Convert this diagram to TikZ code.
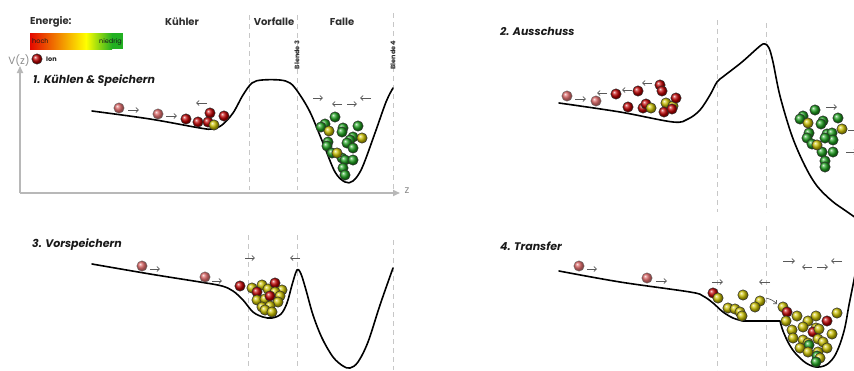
\documentclass[tikz,border=0pt]{standalone}
\usepackage{fontspec}
\setmainfont{Poppins}
\usetikzlibrary{arrows.meta}

\definecolor{ionred}{HTML}{C00000}
\definecolor{iongreen}{HTML}{1EA01E}
\definecolor{ionyellow}{HTML}{CCC200}
\definecolor{ghostred}{HTML}{C83030}
\definecolor{barred}{HTML}{E40800}
\definecolor{bargreen}{HTML}{22B022}
\definecolor{textdark}{HTML}{2E2E2E}

% one ion drawn as a shaded sphere with a thin rim
\newcommand\ionat[3]{%
  \shade[ball color=#3] (#1,#2) circle (5.2pt);
  \draw[black!80, line width=0.5pt] (#1,#2) circle (5.2pt);}
\newcommand\ghostat[2]{%
  \begin{scope}[opacity=0.8]
    \shade[ball color=ghostred] (#1,#2) circle (5.2pt);
    \draw[black!60, line width=0.5pt] (#1,#2) circle (5.2pt);
  \end{scope}}

\begin{document}
\begin{tikzpicture}[x=1pt, y=-1pt,
  guide/.style={draw=black!22, dash pattern=on 5pt off 4pt, line width=0.9pt},
  potential/.style={draw=black, line width=1.6pt, line join=round, line cap=round},
  motion/.style={-{Straight Barb[length=2.6pt,width=5pt]}, draw=black!65, line width=0.7pt},
  axisline/.style={draw=black!28, line width=1.6pt, -{Triangle[length=7pt,width=6pt]}},
  heading/.style={font=\bfseries\fontsize{10}{12}\selectfont, text=textdark, inner sep=0},
  stagetitle/.style={font=\bfseries\itshape\fontsize{11}{13}\selectfont, text=black!90, anchor=west, inner sep=0},
  aperture/.style={font=\bfseries\fontsize{6.5}{8}\selectfont, rotate=90, text=textdark, inner sep=0},
  legendtext/.style={font=\fontsize{6.5}{8}\selectfont, text=black!90, inner sep=0},
  axislabel/.style={font=\fontsize{10.5}{12}\selectfont, text=black!45, inner sep=0}]
\useasboundingbox (0,0) rectangle (854,370);

% ---------------- guide lines (apertures) ----------------
\draw[guide] (249,15) -- (249,190);
\draw[guide] (297,15) -- (297,190);
\draw[guide] (393,13) -- (393,190);
\draw[guide] (717,20) -- (717,212);
\draw[guide] (766,23) -- (766,212);
\draw[guide] (248,235) -- (248,370);
\draw[guide] (297,235) -- (297,370);
\draw[guide] (393,240) -- (393,370);
\draw[guide] (717,226) -- (717,370);
\draw[guide] (766,226) -- (766,370);

% ---------------- axes ----------------
\coordinate (origin) at (20,193);
\coordinate (vtop) at (20,66);
\coordinate (zend) at (400,193);
\draw[axisline] (origin) -- (vtop);
\draw[axisline] (origin) -- (zend);
\node[axislabel] (vlabel) at (19,61) {V(z)};
\node[axislabel] (zlabel) at (407,191) {z};

% ---------------- legend ----------------
\node[heading, anchor=west] (energy) at (30,22) {Energie:};
\shade[left color=barred, right color=yellow] (30,33) rectangle (86,49);
\shade[left color=yellow, right color=bargreen] (86,33) rectangle (112,49);
\fill[bargreen] (112,33) rectangle (123,49);
\node[legendtext, anchor=west] (high) at (32,41.5) {hoch};
\node[legendtext, anchor=east] (low) at (122,41.5) {niedrig};
\ionat{37}{59}{ionred}
\node[legendtext, font=\bfseries\fontsize{6.5}{8}\selectfont, anchor=west] (ionlabel) at (46,59.5) {Ion};

% region headings
\node[heading] (cooler) at (182,22) {Kühler};
\node[heading] (prefall) at (274,22) {Vorfalle};
\node[heading] (trap) at (342,22) {Falle};
\node[aperture] (ap3) at (297,55) {Blende 3};
\node[aperture] (ap4) at (393,55) {Blende 4};

% ---------------- stage titles ----------------
\node[stagetitle] (t1) at (33,81) {1. Kühlen \& Speichern};
\node[stagetitle] (t2) at (500,31) {2. Ausschuss};
\node[stagetitle] (t3) at (32,245) {3. Vorspeichern};
\node[stagetitle] (t4) at (500,246) {4. Transfer};

% ---------------- potential curves ----------------
\draw[potential] plot[smooth, tension=0.55] coordinates {
  (92,111) (150,119) (200,128) (212,129) (222,125) (233,113) (243,95)
  (252,83) (262,80) (280,80) (290,83) (298,92) (310,112) (323,143)
  (335,172) (345,182) (353,181) (362,168) (375,133) (386,102) (393,88)};

\draw[potential] plot[smooth, tension=0.55] coordinates {
  (559,103) (620,112) (673,122) (688,119) (700,110) (710,95) (717,82)
  (724,76) (742,62) (760,46) (765,44) (769,48) (773,62) (780,96)
  (792,136) (805,166) (817,186) (832,201) (846,211) (856,218)};

\draw[potential] plot[smooth, tension=0.55] coordinates {
  (92,264) (150,274) (200,282) (222,286) (233,291) (243,300) (253,312)
  (263,317) (272,318) (281,314) (287,303) (292,285) (297,270) (301,274)
  (306,290) (313,315) (322,338) (333,357) (343,366) (350,368) (358,362)
  (368,342) (380,305) (393,268)};

\draw[potential] plot[smooth, tension=0.55] coordinates {
  (559,271) (620,282) (690,292) (703,296) (713,303) (723,312) (733,318) (743,321)}
  -- plot[smooth, tension=0.55] coordinates {
  (780,321) (783,331) (789,344) (796,354) (806,363) (816,367) (826,365)
  (834,357) (840,344) (845,327) (849,305) (855,275)};

% ---------------- stage 1 ions ----------------
\ghostat{119}{108}
\ghostat{158}{114}
\foreach \x/\y in {186/119, 198/122, 224/116, 210/113, 208/122}{\ionat{\x}{\y}{ionred}}
\ionat{214}{125}{ionyellow}
\foreach \x/\y in {335/117, 325/124, 321/127, 343/128, 342/132, 358/126,
                   353/137, 350/140, 347/143, 353/148, 328/142, 327/146,
                   332/153, 342/158, 345/160, 353/160, 343/168, 345/175}{\ionat{\x}{\y}{iongreen}}
\foreach \x/\y in {329/131, 362/138, 337/153}{\ionat{\x}{\y}{ionyellow}}
\draw[motion] (128,110) -- (139,110);
\draw[motion] (166,116) -- (177,116);
\draw[motion] (207,103) -- (196,103);
\draw[motion] (313,98) -- (323,98);
\draw[motion] (342,104) -- (332,104);
\draw[motion] (347,104) -- (357,104);
\draw[motion] (371,98) -- (360,98);

% ---------------- stage 2 ions ----------------
\ghostat{567}{96}
\ghostat{596}{101}
\foreach \x/\y in {616/94, 638/91, 660/85, 662/91, 628/107, 643/108, 646/104}{\ionat{\x}{\y}{ionred}}
\ionat{651}{108}{ionyellow}
\ionat{666}{103}{ionyellow}
\ionat{673}{106}{ionyellow}
\foreach \x/\y in {676/98, 664/112, 672/109}{\ionat{\x}{\y}{ionred}}
\foreach \x/\y in {815/110, 803/116, 800/119, 823/121, 821/124, 838/118,
                   809/133, 807/138, 827/134, 832/133, 833/140, 825/138,
                   812/144, 822/152, 833/152, 825/161, 825/167}{\ionat{\x}{\y}{iongreen}}
\foreach \x/\y in {808/123, 842/129, 817/145}{\ionat{\x}{\y}{ionyellow}}
\draw[motion] (575,99) -- (586,99);
\draw[motion] (607,93) -- (597,93);
\draw[motion] (632,90) -- (622,90);
\draw[motion] (652,83) -- (642,83);
\draw[motion] (826,107) -- (837,107);
\draw[motion] (848,130) -- (859,130);
\draw[motion] (846,152) -- (857,152);

% ---------------- stage 3 ions ----------------
\ghostat{142}{266}
\ghostat{205}{277}
\ionat{240}{286}{ionred}
\foreach \x/\y in {252/288, 262/285, 268/289, 282/290}{\ionat{\x}{\y}{ionyellow}}
\ionat{257}{292}{ionred}
\ionat{275}{283}{ionred}
\foreach \x/\y in {275/292, 280/296, 257/300, 265/299}{\ionat{\x}{\y}{ionyellow}}
\ionat{270}{296}{ionred}
\foreach \x/\y in {278/302, 262/307, 270/306, 265/310, 272/312}{\ionat{\x}{\y}{ionyellow}}
\draw[motion] (150,269) -- (160,269);
\draw[motion] (212,281) -- (222,281);
\draw[motion] (245,258) -- (255,258);
\draw[motion] (300,258) -- (290,258);

% ---------------- stage 4 ions ----------------
\ghostat{579}{266}
\ghostat{647}{278}
\ionat{713}{293}{ionred}
\foreach \x/\y in {718/298, 743/295, 760/301, 755/307, 728/308, 735/309,
                   740/312, 742/316, 783/307}{\ionat{\x}{\y}{ionyellow}}
\ionat{787}{312}{ionred}
\foreach \x/\y in {786/321, 797/316, 808/321, 816/316, 837/313}{\ionat{\x}{\y}{ionyellow}}
\ionat{827}{321}{ionred}
\foreach \x/\y in {792/330, 803/327, 816/328}{\ionat{\x}{\y}{ionyellow}}
\ionat{813}{332}{ionred}
\foreach \x/\y in {819/329, 832/334, 793/338, 803/340, 808/343, 818/339}{\ionat{\x}{\y}{ionyellow}}
\ionat{809}{345}{iongreen}
\foreach \x/\y in {823/342, 827/348, 800/348, 808/352, 818/352}{\ionat{\x}{\y}{ionyellow}}
\ionat{817}{356}{iongreen}
\ionat{820}{358}{ionyellow}
\ionat{816}{362}{iongreen}
\draw[motion] (587,269) -- (597,269);
\draw[motion] (656,281) -- (667,281);
\draw[motion] (712,282) -- (723,282);
\draw[motion] (770,282) -- (759,282);
\draw[motion] (783,261) -- (795,261);
\draw[motion] (812,267) -- (802,267);
\draw[motion] (817,267) -- (828,267);
\draw[motion] (842,261) -- (831,261);
\draw[motion] (766,298) to[bend left=15] (777,304);
\end{tikzpicture}
\end{document}
